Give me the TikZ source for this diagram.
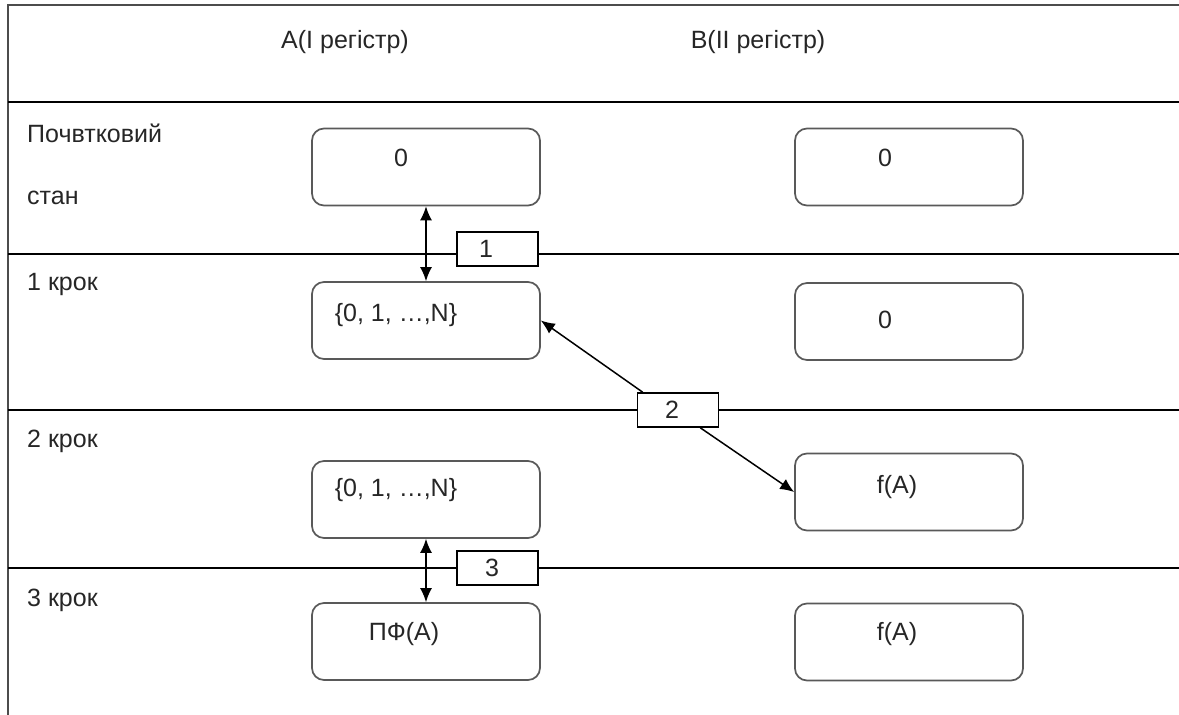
\documentclass[tikz,border=0pt]{standalone}
\usepackage{fontspec}
\setmainfont{Liberation Sans}
\usetikzlibrary{arrows.meta}
\begin{document}
\begin{tikzpicture}[x=1pt,y=-1pt,
  every node/.style={font=\fontsize{25}{29}\selectfont, text=black!85, inner sep=0pt},
  regbox/.style={draw=black!65, line width=1.7pt, rounded corners=12pt, fill=white, minimum width=228pt, minimum height=77pt},
  stepbox/.style={draw=black, line width=1.5pt, fill=white, minimum width=81pt, minimum height=34pt},
  tline/.style={line width=1.5pt, draw=black},
  conn/.style={line width=1.5pt, draw=black},
  tip/.style={-{Latex[length=14pt,width=12pt]}},
  tips/.style={{Latex[length=14pt,width=12pt]}-{Latex[length=14pt,width=12pt]}}]
\useasboundingbox (0,0) rectangle (1179,715);
% table frame
\draw[line width=2pt, draw=black!70] (8,715) -- (8,5) -- (1179,5);
\draw[tline] (8,102) -- (1179,102);
\draw[tline] (8,254) -- (1179,254);
\draw[tline] (8,410) -- (1179,410);
\draw[tline] (8,568) -- (1179,568);
% headers
\node (ha) at (345,42) {A(I регістр)};
\node (hb) at (758,42) {B(II регістр)};
% row labels
\node[anchor=west] (r0a) at (27,133) {Почвтковий};
\node[anchor=west] (r0b) at (27,198) {стан};
\node[anchor=west] (r1) at (27,284) {1 крок};
\node[anchor=west] (r2) at (27,441) {2 крок};
\node[anchor=west] (r3) at (27,600) {3 крок};
% register boxes
\node[regbox] (a0) at (426,167) {};
\node[regbox] (b0) at (909,167) {};
\node[regbox] (a1) at (426,320.5) {};
\node[regbox] (b1) at (909,321.5) {};
\node[regbox] (a2) at (426,499.5) {};
\node[regbox] (b2) at (909,492) {};
\node[regbox] (a3) at (426,641.5) {};
\node[regbox] (b3) at (909,642) {};
% box texts
\node (ta0) at (401,158) {0};
\node (tb0) at (885,158) {0};
\node (ta1) at (396,315) {\{0, 1, …,N\}};
\node (tb1) at (885,320) {0};
\node (ta2) at (396,490) {\{0, 1, …,N\}};
\node (tb2) at (897,487) {f(A)};
\node (ta3) at (404,634) {ПФ(A)};
\node (tb3) at (897,634) {f(A)};
% step boxes
\node[stepbox] (s1) at (497.5,249) {};
\node (t1) at (486,249) {1};
\node[stepbox] (s2) at (678,410) {};
\node (t2) at (672,410) {2};
\node[stepbox] (s3) at (497.5,568) {};
\node (t3) at (492,568) {3};
% connectors
\draw[conn,tips] (a0.south) -- (a1.north);
\draw[conn,tips] (a2.south) -- (a3.north);
\draw[conn,tip] ([xshift=6pt]s2.north west) -- (a1.east);
\draw[conn,tip] ([xshift=-19pt]s2.south east) -- (b2.west);
\end{tikzpicture}
\end{document}
